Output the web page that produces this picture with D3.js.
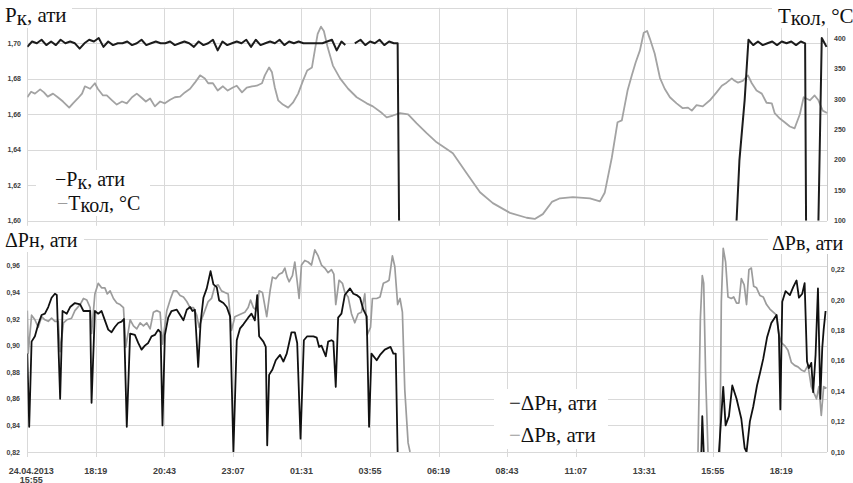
<!DOCTYPE html>
<html><head><meta charset="utf-8">
<script src="https://cdn.jsdelivr.net/npm/d3@7"></script>
<style>body{margin:0;background:#fff;} svg{display:block;}</style>
</head><body>
<svg id="c" width="853" height="483"></svg>
<script>
// ---------- data ----------
const startDate = new Date(2013, 3, 24, 15, 55);
const spanMinutes = 1680;
const tickMinutes = [0,144,288,432,576,720,864,1008,1152,1296,1440,1584];
const tickLabels = [["24.04.2013","15:55"],["18:19"],["20:43"],["23:07"],["01:31"],["03:55"],["06:19"],["08:43"],["11:07"],["13:31"],["15:55"],["18:19"]];
const pkTicks = [1.60,1.62,1.64,1.66,1.68,1.70,1.72];
const tkolTicks = [100,150,200,250,300,350,400];
const dpnTicks = [0.82,0.84,0.86,0.88,0.90,0.92,0.94,0.96,0.98];
const dpvTicks = [0.10,0.12,0.14,0.16,0.18,0.20,0.22];

// [minutes from start, value]; null = gap
const pkSeries = [[0,1.698],[10,1.701],[20,1.700],[30,1.702],[40,1.699],[50,1.701],[60,1.699],[70,1.702],[80,1.700],[90,1.701],
[100,1.700],[110,1.697],[120,1.700],[130,1.702],[140,1.701],[150,1.703],[160,1.698],[170,1.701],[180,1.699],[190,1.700],
[200,1.700],[210,1.701],[220,1.699],[230,1.700],[240,1.702],[250,1.699],[260,1.700],[270,1.701],[280,1.700],[290,1.700],
[300,1.701],[310,1.699],[320,1.700],[330,1.701],[340,1.700],[350,1.698],[360,1.701],[370,1.699],[380,1.700],[390,1.702],
[400,1.696],[410,1.701],[420,1.699],[430,1.700],[440,1.701],[450,1.700],[460,1.702],[470,1.698],[480,1.702],[490,1.699],
[500,1.700],[510,1.701],[520,1.700],[530,1.702],[540,1.699],[550,1.701],[560,1.700],[570,1.701],[580,1.700],[590,1.700],
[600,1.700],[610,1.700],[620,1.700],[630,1.701],[640,1.702],[650,1.696],[660,1.701],[668,1.699],[680,null],[688,1.700],
[700,1.702],[710,1.699],[720,1.701],[730,1.700],[740,1.702],[750,1.699],[760,1.701],[770,1.700],[778,1.700],[781,1.600],
[1100,null],[1490,1.600],[1496,1.634],[1507,1.668],[1515,1.702],[1525,1.699],[1535,1.701],[1545,1.699],[1555,1.700],
[1565,1.701],[1575,1.699],[1585,1.701],[1595,1.700],[1605,1.701],[1615,1.699],[1625,1.701],[1634,1.700],[1636,1.600],
[1650,null],[1662,1.600],[1669,1.703],[1673,1.701],[1679,1.698]];

const tkolSeries = [[0,303],[8,312],[16,309],[27,316],[35,311],[43,304],[54,309],[64,303],[75,296],[88,286],[96,293],[106,301],
[115,309],[121,321],[132,317],[142,326],[148,317],[159,306],[167,306],[178,298],[188,291],[199,296],[209,293],[220,303],
[230,309],[239,303],[249,296],[258,301],[268,288],[279,296],[289,293],[300,299],[310,303],[321,304],[331,311],[342,317],
[352,327],[363,339],[373,334],[380,326],[390,326],[400,314],[411,321],[421,314],[432,319],[440,322],[451,311],[461,319],
[472,321],[482,322],[493,326],[499,339],[508,352],[514,344],[520,319],[527,298],[537,291],[548,286],[558,294],[569,309],
[579,330],[588,347],[598,352],[604,380],[610,407],[617,419],[623,412],[631,385],[642,355],[657,334],[674,317],[692,303],
[713,293],[726,288],[745,277],[755,270],[768,273],[783,277],[800,275],[818,260],[839,244],[860,229],[881,218],[894,211],
[923,178],[951,147],[978,129],[1014,113],[1049,105],[1066,103],[1083,111],[1102,131],[1119,137],[1146,139],[1182,137],
[1203,132],[1213,146],[1228,204],[1240,262],[1249,265],[1261,314],[1270,339],[1278,360],[1287,380],[1295,409],[1302,412],
[1308,399],[1318,375],[1329,335],[1339,317],[1350,303],[1364,293],[1377,285],[1388,286],[1396,281],[1406,290],[1419,288],
[1434,298],[1448,311],[1459,322],[1469,327],[1480,334],[1486,330],[1493,327],[1503,330],[1514,339],[1522,326],[1532,314],
[1543,309],[1553,294],[1564,293],[1570,277],[1581,268],[1591,262],[1602,255],[1612,252],[1623,275],[1631,303],[1644,298],
[1654,306],[1662,298],[1671,281],[1680,277]];

const dpnSeries = [[0,0.894],[4,0.839],[9,0.903],[16,0.907],[23,0.916],[30,0.923],[37,0.924],[44,0.929],[51,0.936],[58,0.939],
[62,0.938],[69,0.860],[74,0.926],[83,0.924],[90,0.929],[100,0.932],[111,0.931],[118,0.926],[125,0.926],[132,0.926],
[135,0.857],[142,0.926],[149,0.924],[156,0.926],[163,0.919],[170,0.912],[177,0.910],[184,0.914],[191,0.917],[198,0.918],
[203,0.920],[209,0.839],[216,0.909],[226,0.908],[233,0.902],[240,0.897],[247,0.900],[254,0.902],[261,0.907],[268,0.908],
[275,0.912],[280,0.910],[284,0.840],[289,0.908],[296,0.921],[303,0.926],[314,0.927],[321,0.923],[328,0.919],[335,0.927],
[342,0.929],[347,0.926],[352,0.927],[359,0.884],[364,0.917],[370,0.936],[377,0.943],[385,0.956],[391,0.946],[398,0.944],
[403,0.934],[412,0.932],[419,0.929],[426,0.922],[433,0.820],[440,0.904],[447,0.913],[454,0.916],[464,0.921],[471,0.924],
[478,0.919],[483,0.938],[487,0.907],[496,0.903],[501,0.899],[504,0.825],[508,0.878],[515,0.882],[522,0.889],[531,0.893],
[538,0.888],[545,0.894],[550,0.902],[555,0.910],[562,0.910],[567,0.902],[574,0.830],[581,0.904],[588,0.907],[601,0.907],
[608,0.906],[613,0.899],[618,0.900],[627,0.892],[632,0.903],[639,0.904],[643,0.903],[648,0.869],[653,0.921],[660,0.924],
[667,0.938],[678,0.943],[685,0.939],[692,0.938],[699,0.936],[706,0.927],[713,0.922],[718,0.839],[723,0.894],[734,0.889],
[741,0.893],[751,0.897],[763,0.899],[769,0.894],[774,0.894],[778,0.818],[790,null],
[1416,0.818],[1418,0.847],[1421,0.818],[1440,null],[1453,0.818],[1462,0.869],[1467,0.840],[1474,0.847],[1481,0.870],
[1490,0.860],[1500,0.845],[1507,0.823],[1511,0.818],[1518,0.843],[1525,0.854],[1533,0.870],[1539,0.879],[1546,0.890],
[1554,0.906],[1563,0.917],[1574,0.923],[1579,0.908],[1582,0.852],[1586,0.933],[1593,0.941],[1602,0.938],[1609,0.944],
[1616,0.949],[1621,0.936],[1628,0.939],[1633,0.947],[1638,0.888],[1642,0.883],[1647,0.887],[1651,0.865],[1656,0.893],
[1661,0.943],[1666,0.860],[1670,0.898],[1673,0.912],[1677,0.926]];

const dpvSeries = [[0,0.193],[2,0.165],[9,0.190],[16,0.187],[23,0.182],[30,0.189],[37,0.187],[44,0.186],[51,0.188],[58,0.186],
[65,0.186],[69,0.166],[76,0.185],[83,0.187],[93,0.188],[100,0.193],[111,0.197],[118,0.201],[125,0.200],[132,0.195],
[135,0.178],[142,0.204],[149,0.211],[156,0.208],[163,0.208],[168,0.204],[174,0.206],[181,0.201],[188,0.198],[195,0.197],
[202,0.195],[207,0.169],[216,0.187],[223,0.183],[230,0.181],[237,0.185],[244,0.183],[251,0.185],[258,0.181],[265,0.192],
[272,0.193],[279,0.192],[284,0.171],[293,0.193],[301,0.201],[307,0.206],[314,0.206],[321,0.203],[328,0.202],[335,0.199],
[342,0.195],[349,0.195],[356,0.190],[361,0.182],[366,0.187],[373,0.193],[380,0.199],[387,0.201],[394,0.209],[401,0.210],
[408,0.206],[415,0.205],[422,0.204],[429,0.180],[436,0.189],[443,0.190],[450,0.191],[457,0.192],[464,0.195],[469,0.200],
[475,0.195],[482,0.193],[487,0.206],[494,0.205],[503,0.189],[510,0.206],[515,0.215],[522,0.214],[529,0.217],[536,0.218],
[541,0.221],[546,0.215],[550,0.212],[557,0.216],[562,0.225],[567,0.212],[571,0.201],[576,0.223],[583,0.226],[590,0.225],
[597,0.223],[604,0.233],[611,0.229],[618,0.223],[625,0.221],[632,0.218],[639,0.220],[644,0.217],[648,0.197],[655,0.213],
[662,0.211],[667,0.205],[674,0.202],[681,0.191],[688,0.185],[695,0.191],[702,0.192],[709,0.204],[714,0.177],[721,0.182],
[725,0.201],[734,0.201],[741,0.202],[748,0.211],[755,0.212],[760,0.213],[767,0.229],[772,0.222],[778,0.197],[783,0.201],
[788,0.192],[793,0.141],[800,0.106],[804,0.098],[820,null],
[1409,0.098],[1414,0.188],[1418,0.216],[1421,0.211],[1425,0.151],[1430,0.098],[1440,null],[1455,0.098],[1458,0.199],
[1462,0.234],[1467,0.225],[1472,0.202],[1479,0.201],[1484,0.202],[1490,0.198],[1495,0.198],[1500,0.214],[1506,0.210],
[1511,0.197],[1516,0.220],[1521,0.221],[1526,0.209],[1532,0.208],[1539,0.203],[1546,0.202],[1553,0.197],[1560,0.194],
[1567,0.192],[1574,0.190],[1579,0.177],[1584,0.172],[1591,0.170],[1598,0.167],[1605,0.159],[1612,0.157],[1619,0.156],
[1626,0.154],[1633,0.153],[1640,0.157],[1647,0.143],[1651,0.140],[1658,0.135],[1663,0.143],[1668,0.124],[1673,0.143],
[1679,0.142]];

// ---------- chart ----------
const svg = d3.select("#c");
const W = 853, H = 483;
const xL = 27.3, xR = 827;
const top1 = 7.8, bot1 = 220.8, top2 = 239.2, bot2 = 452;
const addMin = m => new Date(startDate.getTime() + m * 60000);

const x = d3.scaleTime().domain([startDate, addMin(spanMinutes)]).range([xL, xR]);
const yPk = d3.scaleLinear().domain([1.60, 1.72]).range([bot1, top1]);
const yT = d3.scaleLinear().domain([100, 450]).range([bot1, top1]);
const yPn = d3.scaleLinear().domain([0.82, 0.98]).range([bot2, top2]);
const yPv = d3.scaleLinear().domain([0.10, 0.24]).range([bot2, top2]);

const gridColor = "#d9d9d9";
const comma = f => d3.format(".2f")(f).replace(".", ",");

svg.append("rect").attr("width", W).attr("height", H).attr("fill", "#fff");

function panel(yLeft, leftTicks, top, bot) {
  const g = svg.append("g");
  g.selectAll("line.h").data(leftTicks).join("line")
    .attr("x1", xL).attr("x2", xR)
    .attr("y1", d => Math.round(yLeft(d)) + 0.5).attr("y2", d => Math.round(yLeft(d)) + 0.5)
    .attr("stroke", gridColor).attr("stroke-width", 1);
  g.selectAll("line.v").data(tickMinutes).join("line")
    .attr("x1", d => Math.round(x(addMin(d))) + 0.5).attr("x2", d => Math.round(x(addMin(d))) + 0.5)
    .attr("y1", top).attr("y2", bot + 5)
    .attr("stroke", gridColor).attr("stroke-width", 1);
  g.append("line").attr("x1", Math.round(xR) + 0.5).attr("x2", Math.round(xR) + 0.5)
    .attr("y1", top).attr("y2", bot).attr("stroke", "#c8c8c8");
}
panel(yPk, pkTicks, top1, bot1);
panel(yPn, dpnTicks, top2, bot2);

// clip paths
const defs = svg.append("defs");
defs.append("clipPath").attr("id", "clip1").append("rect")
  .attr("x", xL).attr("y", top1 - 2).attr("width", xR - xL + 2).attr("height", bot1 - top1 + 2);
defs.append("clipPath").attr("id", "clip2").append("rect")
  .attr("x", xL).attr("y", top2 - 2).attr("width", xR - xL + 2).attr("height", bot2 - top2 + 2);

// title backgrounds
const bg = [[0,0,72,28],[772,0,81,28],[0,228,84,24],[768,228,85,26]];
svg.selectAll("rect.bg").data(bg).join("rect")
  .attr("x", d => d[0]).attr("y", d => d[1]).attr("width", d => d[2]).attr("height", d => d[3]).attr("fill", "#fff");

function drawLine(series, y, clip, color, width) {
  const line = d3.line()
    .defined(d => d[1] != null)
    .x(d => x(addMin(d[0])))
    .y(d => y(Math.max(y.domain()[0], d[1])));
  svg.append("path").datum(series)
    .attr("clip-path", `url(#${clip})`)
    .attr("d", line).attr("fill", "none")
    .attr("stroke", color).attr("stroke-width", width)
    .attr("stroke-linejoin", "round");
}
drawLine(tkolSeries, yT, "clip1", "#a3a3a3", 1.8);
drawLine(pkSeries, yPk, "clip1", "#1c1c1c", 2);
drawLine(dpvSeries, yPv, "clip2", "#9c9c9c", 1.7);
drawLine(dpnSeries, yPn, "clip2", "#111", 1.8);

// tick labels
const tickFont = '"Liberation Sans", Arial, sans-serif';
function yLabels(ticks, scale, xPos, anchor, fmt) {
  svg.append("g").selectAll("text").data(ticks).join("text")
    .attr("x", xPos).attr("y", d => scale(d) + 2.5)
    .attr("text-anchor", anchor)
    .attr("font-family", tickFont).attr("font-weight", "bold").attr("font-size", 7)
    .attr("fill", "#404040").text(fmt);
}
yLabels(pkTicks.slice(0, 6), yPk, 21, "end", comma);
yLabels(tkolTicks, yT, 834, "start", d => d);
yLabels(dpnTicks.slice(0, 8), yPn, 20, "end", comma);
yLabels(dpvTicks, yPv, 831, "start", comma);

const xl = svg.append("g");
tickMinutes.forEach((m, i) => {
  const cx = x(addMin(m)) + (i === 0 ? 4 : 0);
  const t = xl.append("text")
    .attr("x", cx).attr("y", 473.5)
    .attr("text-anchor", "middle")
    .attr("font-family", tickFont).attr("font-weight", "bold").attr("font-size", 9)
    .attr("fill", "#404040");
  tickLabels[i].forEach((s, k) => {
    t.append("tspan").attr("x", cx).attr("dy", k === 0 ? 0 : 9).text(s);
  });
});

// titles and legends (serif)
const serifFont = '"Liberation Serif"';
function title(xp, yp, parts, size) {
  const t = svg.append("text").attr("x", xp).attr("y", yp)
    .attr("font-family", serifFont).attr("font-size", size || 20).attr("fill", "#111");
  parts.forEach(p => {
    const s = t.append("tspan").text(p[0]);
    if (p[1]) s.attr("dy", p[1]);
    if (p[2]) s.attr("fill", p[2]);
  });
  return t;
}
title(5, 22, [["P"], ["к", 3], [", ати", -3]], 21);
title(778, 23, [["T"], ["кол", 2], [", °C", -2]], 21);
title(5, 247, [["ΔP"], ["н"], [", ати"]], 20);
title(772, 250, [["ΔP"], ["в"], [", ати"]], 20);

svg.append("rect").attr("x", 36).attr("y", 170).attr("width", 114).attr("height", 46).attr("fill", "#fff");
title(55, 186, [["−", 0, "#111"], ["P"], ["к", 3], [", ати", -3]], 20);
title(57, 210, [["−", 0, "#9c9c9c"], ["T"], ["кол", 2], [", °C", -2]], 20);

svg.append("rect").attr("x", 494).attr("y", 389).attr("width", 114).attr("height", 60).attr("fill", "#fff");
title(509, 410, [["−", 0, "#111"], ["ΔP"], ["н"], [", ати"]], 21);
title(509, 442, [["−", 0, "#9c9c9c"], ["ΔP"], ["в"], [", ати"]], 21);
</script>
</body></html>
